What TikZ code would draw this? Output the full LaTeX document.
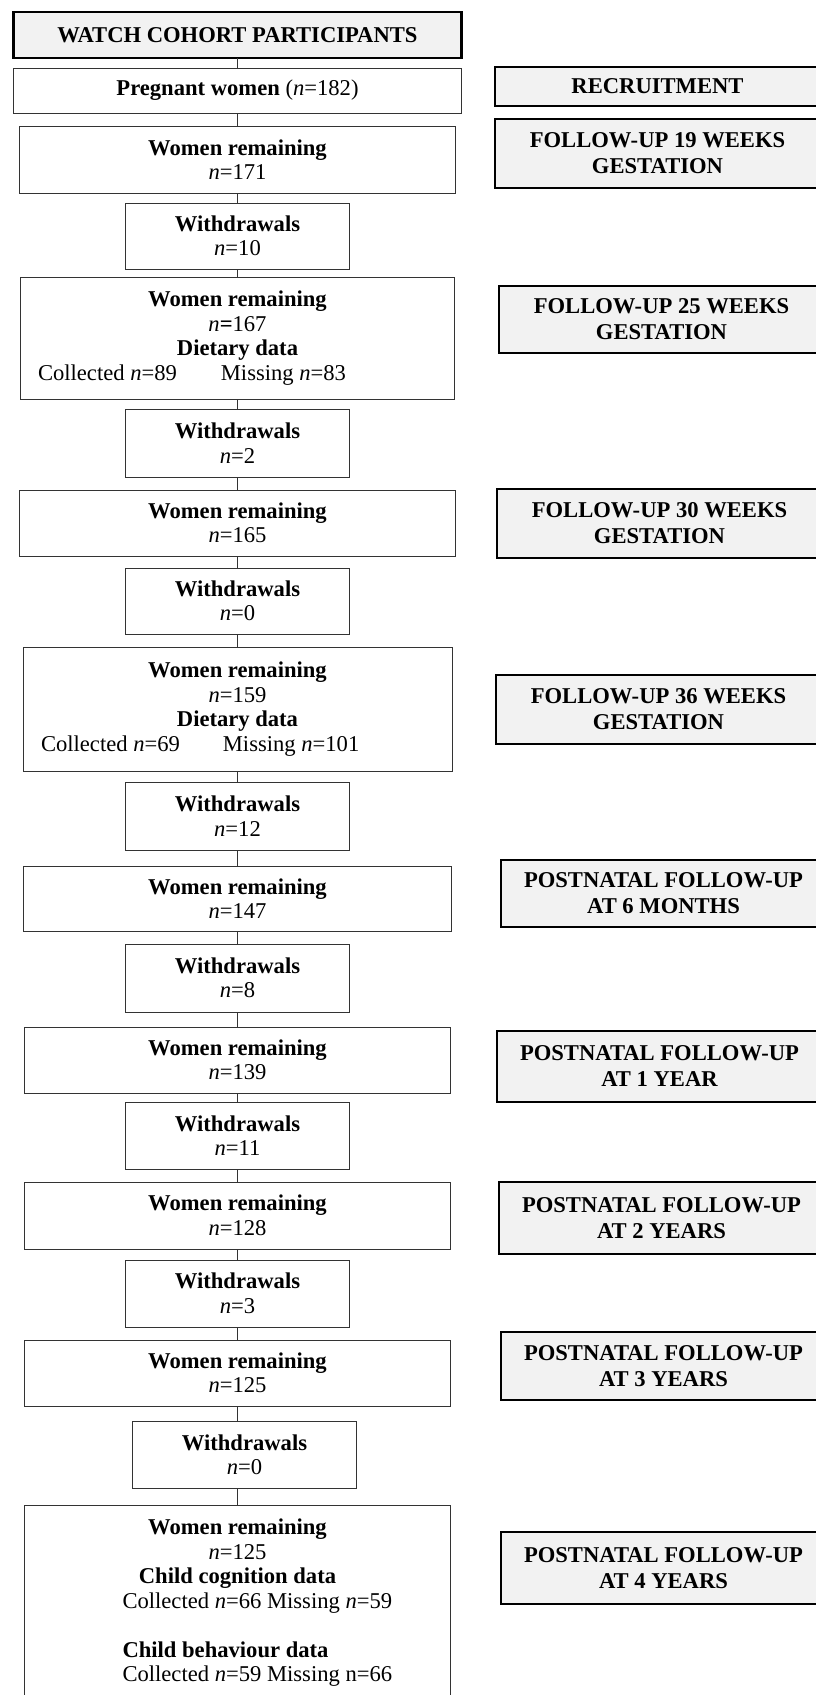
\documentclass[tikz,border=0pt]{standalone}
\usepackage{fontspec}
\setmainfont{Liberation Serif}
\usepackage{tikz}
\usetikzlibrary{positioning}
\newcommand{\boxfont}{\fontsize{22.6}{24.5}\selectfont}
\newcommand{\stagefont}{\fontsize{22.6}{26}\selectfont\bfseries}
\newcommand{\nsym}{\textit{n}}
\tikzset{
  basebox/.style={rectangle,draw=black!80,line width=1pt,align=center,inner sep=0pt,outer sep=0pt,font=\boxfont},
  titlenode/.style={basebox,draw=black,line width=2.5pt,fill=gray!10,minimum width=448pt,minimum height=46pt},
  womennode/.style={basebox,minimum width=426pt,minimum height=66pt},
  drawnode/.style={basebox,minimum width=224pt,minimum height=67pt},
  stagenode/.style={basebox,draw=black,line width=2.5pt,fill=gray!10,font=\stagefont,minimum width=325pt,anchor=north west},
  link/.style={draw=black!80,line width=1pt}
}

\begin{document}
\begin{tikzpicture}[x=1pt,y=1pt]
  \useasboundingbox (0,0) rectangle (816,-1695);
  \clip (0,0) rectangle (816,-1695);

  % main column
  \node[titlenode] (title) at (237.5,-35) {\textbf{WATCH COHORT PARTICIPANTS}};
  \node[womennode,below=10pt of title,minimum width=448pt,minimum height=45pt] (preg)
    {\textbf{Pregnant women} (\nsym=182)};
  \node[womennode,below=13pt of preg,minimum width=436pt,minimum height=67pt] (wr171)
    {\textbf{Women remaining}\\\nsym=171};
  \node[drawnode,below=10pt of wr171,minimum height=66pt] (wd10) {\textbf{Withdrawals}\\\nsym=10};
  \node[womennode,below=8pt of wd10,minimum width=434pt,minimum height=122pt] (wr167)
    {\textbf{Women remaining}\\\nsym\textbf{=}167\\\textbf{Dietary data}\\
     \makebox[399pt][l]{Collected \nsym=89\hspace{44pt}Missing \nsym=83}};
  \node[drawnode,below=10pt of wr167,minimum height=68pt] (wd2) {\textbf{Withdrawals}\\\nsym=2};
  \node[womennode,below=13pt of wd2,minimum width=436pt] (wr165)
    {\textbf{Women remaining}\\\nsym=165};
  \node[drawnode,below=12pt of wr165,minimum height=66pt] (wd0) {\textbf{Withdrawals}\\\nsym=0};
  \node[womennode,below=13pt of wd0,minimum width=429pt,minimum height=124pt] (wr159)
    {\textbf{Women remaining}\\\nsym=159\\\textbf{Dietary data}\\
     \makebox[393pt][l]{Collected \nsym=69\hspace{43pt}Missing \nsym=101}};
  \node[drawnode,below=11pt of wr159,minimum height=68pt] (wd12) {\textbf{Withdrawals}\\\nsym=12};
  \node[womennode,below=16pt of wd12,minimum width=428pt,minimum height=65pt] (wr147)
    {\textbf{Women remaining}\\\nsym=147};
  \node[drawnode,below=13pt of wr147,minimum height=68pt] (wd8) {\textbf{Withdrawals}\\\nsym=8};
  \node[womennode,below=15pt of wd8] (wr139) {\textbf{Women remaining}\\\nsym=139};
  \node[drawnode,below=9pt of wr139] (wd11) {\textbf{Withdrawals}\\\nsym=11};
  \node[womennode,below=13pt of wd11,minimum height=67pt] (wr128) {\textbf{Women remaining}\\\nsym=128};
  \node[drawnode,below=11pt of wr128] (wd3) {\textbf{Withdrawals}\\\nsym=3};
  \node[womennode,below=13pt of wd3] (wr125) {\textbf{Women remaining}\\\nsym=125};
  \node[drawnode,below=15pt of wr125,xshift=7pt] (wd0b) {\textbf{Withdrawals}\\\nsym=0};
  \node[basebox,minimum width=426pt,inner ysep=14pt,below=17pt of wd0b,xshift=-7pt] (wr125b)
    {\textbf{Women remaining}\\\nsym=125\\\textbf{Child cognition data}\\
     \makebox[230pt][l]{Collected \nsym=66 Missing \nsym=59}\\[24.5pt]
     \makebox[230pt][l]{\textbf{Child behaviour data}}\\
     \makebox[230pt][l]{Collected \nsym=59 Missing n=66}\\[20pt]\mbox{}};

  % stage labels
  \node[stagenode,minimum height=39pt] (recruit) at (495,-67) {RECRUITMENT};
  \node[stagenode,minimum height=69pt] (fu19) at (495,-119) {FOLLOW-UP 19 WEEKS\\GESTATION};
  \node[stagenode,minimum height=67pt] (fu25) at (499,-286) {FOLLOW-UP 25 WEEKS\\GESTATION};
  \node[stagenode,minimum height=69pt] (fu30) at (497,-489) {FOLLOW-UP 30 WEEKS\\GESTATION};
  \node[stagenode,minimum height=69pt] (fu36) at (496,-675) {FOLLOW-UP 36 WEEKS\\GESTATION};
  \node[stagenode,minimum height=67pt] (pn6m) at (501,-860) {POSTNATAL FOLLOW-UP\\AT 6 MONTHS};
  \node[stagenode,minimum height=71pt] (pn1y) at (497,-1031) {POSTNATAL FOLLOW-UP\\AT 1 YEAR};
  \node[stagenode,minimum height=72pt] (pn2y) at (499,-1182) {POSTNATAL FOLLOW-UP\\AT 2 YEARS};
  \node[stagenode,minimum height=68pt] (pn3y) at (501,-1332) {POSTNATAL FOLLOW-UP\\AT 3 YEARS};
  \node[stagenode,minimum height=72pt] (pn4y) at (501,-1532) {POSTNATAL FOLLOW-UP\\AT 4 YEARS};

  % connectors
  \draw[link] (title.south) -- (preg.north);
  \draw[link] (preg.south) -- (wr171.north);
  \draw[link] (wr171.south) -- (wd10.north);
  \draw[link] (wd10.south) -- (wr167.north);
  \draw[link] (wr167.south) -- (wd2.north);
  \draw[link] (wd2.south) -- (wr165.north);
  \draw[link] (wr165.south) -- (wd0.north);
  \draw[link] (wd0.south) -- (wr159.north);
  \draw[link] (wr159.south) -- (wd12.north);
  \draw[link] (wd12.south) -- (wr147.north);
  \draw[link] (wr147.south) -- (wd8.north);
  \draw[link] (wd8.south) -- (wr139.north);
  \draw[link] (wr139.south) -- (wd11.north);
  \draw[link] (wd11.south) -- (wr128.north);
  \draw[link] (wr128.south) -- (wd3.north);
  \draw[link] (wd3.south) -- (wr125.north);
  \draw[link] (wr125.south) -- (wr125.south |- wd0b.north);
  \draw[link] (wr125b.north |- wd0b.south) -- (wr125b.north);
\end{tikzpicture}
\end{document}
